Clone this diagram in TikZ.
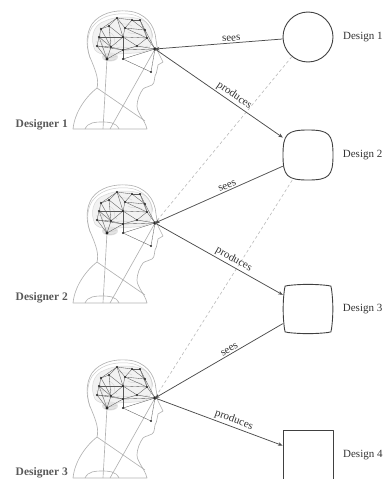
\documentclass[tikz,border=0pt]{standalone}
\usepackage{fontspec}
\setmainfont{Liberation Serif}
\usetikzlibrary{arrows.meta}

\tikzset{
  headline/.style={draw=gray!60, line width=0.65pt, line join=round},
  skullline/.style={draw=gray!40, line width=0.5pt},
  brainfold/.style={draw=gray!30, line width=0.5pt},
  netline/.style={draw=black!65, line width=0.35pt},
  linkarrow/.style={draw=black!70, line width=0.75pt, -{Stealth[length=4.5pt,width=3.6pt]}},
  seesarrow/.style={draw=black!70, line width=0.75pt, {Stealth[length=4.5pt,width=3.6pt]}-},
  trail/.style={draw=gray!55, line width=0.6pt, dash pattern=on 3pt off 2.5pt},
  designline/.style={draw=black!75, line width=0.9pt, line join=round},
  designbox/.style={rectangle, minimum size=50pt, inner sep=0pt, draw=none},
  lbl/.style={font=\fontsize{11}{13}\selectfont, text=black!80, inner sep=1.5pt},
  whois/.style={font=\bfseries\fontsize{11.5}{13}\selectfont, text=black!65, anchor=east, inner sep=0pt},
  designer/.pic={
    \begin{scope}[shift={(-155,-49)}]
      % brain texture
      \fill[gray!10] (95,50) .. controls (90,40) and (92,25) .. (105,21)
        .. controls (115,16) and (135,15) .. (146,22)
        .. controls (153,28) and (154,42) .. (148,50)
        .. controls (140,54) and (128,53) .. (118,54)
        .. controls (112,55) and (100,56) .. (95,50) -- cycle;
      \draw[brainfold] (95,50) .. controls (90,40) and (92,25) .. (105,21)
        .. controls (115,16) and (135,15) .. (146,22)
        .. controls (153,28) and (154,42) .. (148,50)
        .. controls (140,54) and (128,53) .. (118,54)
        .. controls (112,55) and (100,56) .. (95,50);
      \draw[brainfold] (100,27) .. controls (104,31) and (97,35) .. (102,39) .. controls (106,43) and (99,46) .. (104,50);
      \draw[brainfold] (108,24) .. controls (112,28) and (106,31) .. (112,34) .. controls (117,37) and (112,42) .. (117,45);
      \draw[brainfold] (96,42) .. controls (102,40) and (106,44) .. (112,41);
      \draw[brainfold] (118,22) .. controls (122,26) and (128,22) .. (132,26);
      \draw[brainfold] (128,32) .. controls (132,36) and (138,31) .. (142,35);
      \draw[brainfold] (116,48) .. controls (122,45) and (128,50) .. (134,47) .. controls (139,45) and (144,49) .. (148,46);
      \fill[gray!22] (110,57) ellipse [x radius=8pt, y radius=4.5pt];
      \draw[brainfold, gray!38] (103,56) .. controls (108,58) and (113,58) .. (117,56);
      \draw[brainfold, gray!38] (104,59) .. controls (108,61) and (113,61) .. (116,59);
      % skull and profile
      \draw[skullline] (90,58) .. controls (86,46) and (87,31) .. (95,24)
        .. controls (103,15) and (117,13) .. (128,14)
        .. controls (143,15) and (152,26) .. (153,38);
      \draw[headline] (73,129) .. controls (75,110) and (88,95) .. (97,88)
        .. controls (99,80) and (96,72) .. (92,62)
        .. controls (86,50) and (85,35) .. (92,24)
        .. controls (100,13) and (115,10) .. (127,11)
        .. controls (145,12) and (155,25) .. (156,40)
        .. controls (157,45) and (157,49) .. (158,52)
        -- (163,62) -- (158,65)
        .. controls (157,67) and (158,69) .. (157,70)
        .. controls (156,72) and (157,74) .. (155,76)
        .. controls (154,79) and (155,83) .. (152,85)
        .. controls (149,87) and (145,87) .. (143,89)
        .. controls (140,93) and (137,100) .. (137,106)
        .. controls (137,113) and (145,120) .. (147,129) -- cycle;
      \draw[headline] (85,129) .. controls (88,122) and (96,122) .. (102,122)
        .. controls (108,122) and (116,122) .. (119,129);
      \draw[headline] (107,59) -- (103,129);
      \draw[headline] (155,49) -- (110,129);
      \draw[headline] (97,88) -- (145,121);
      % neural network
      \foreach \i/\p in {1/{117,18},2/{132,20},3/{140,20},4/{109,26},5/{101,29},
          6/{125,28},7/{145,30},8/{99,37},9/{123,37},10/{147,38},11/{97,46},
          12/{111,47},13/{137,46},14/{123,50},15/{107,59},16/{123,59},
          17/{151,72},18/{155,49}}
        \coordinate (-n\i) at (\p);
      \foreach \a/\b in {1/2,2/3,1/4,1/5,4/5,1/6,2/6,2/7,3/7,3/10,6/7,5/8,4/9,
          6/9,1/9,8/9,9/10,7/10,6/10,8/11,8/12,11/12,5/12,9/12,9/13,13/10,
          12/14,9/14,13/14,11/15,12/15,14/15,8/15,4/12,14/16,16/17,11/14,
          18/16,18/14,18/13,18/10,18/7,18/17}
        \draw[netline] (-n\a) -- (-n\b);
      \foreach \i in {1,...,14,16,17}
        \fill[black!85] (-n\i) circle (1.2pt);
      \fill[black!85] (-n15) circle (1.7pt);
      \fill[black!85] (-n18) circle (1.8pt);
    \end{scope}
  }
}

\begin{document}
\begin{tikzpicture}[x=1pt, y=-1pt]
  \useasboundingbox (0,0) rectangle (386,479);

  % eyes of the three designers
  \coordinate (eye1) at (155,49);
  \coordinate (eye2) at (155,223);
  \coordinate (eye3) at (155,398);

  % the designs
  \node[circle, minimum size=50pt, inner sep=0pt, designline] (des1) at (308,37) {};
  \node[designbox] (des2) at (308,155) {};
  \node[designbox] (des3) at (308,309) {};
  \node[designbox, designline] (des4) at (308,455) {};

  % a circle pulled towards a square
  \begin{scope}[shift={(des2.center)}]
    \draw[designline] (25,0) .. controls (25,21) and (21,25) .. (0,25)
      .. controls (-21,25) and (-25,21) .. (-25,0)
      .. controls (-25,-21) and (-21,-25) .. (0,-25)
      .. controls (21,-25) and (25,-21) .. cycle;
  \end{scope}
  % almost a square
  \begin{scope}[shift={(des3.center)}]
    \draw[designline] (23.5,-20) .. controls (25.3,-7) and (25.3,7) .. (23.5,20)
      .. controls (23.5,23) and (23,23.5) .. (20,23.5)
      .. controls (7,25) and (-7,25) .. (-20,23.5)
      .. controls (-23,23.5) and (-23.5,23) .. (-23.5,20)
      .. controls (-25.3,7) and (-25.3,-7) .. (-23.5,-20)
      .. controls (-23.5,-23) and (-23,-23.5) .. (-20,-23.5)
      .. controls (-7,-25) and (7,-25) .. (20,-23.5)
      .. controls (23,-23.5) and (23.5,-23) .. cycle;
  \end{scope}

  \node[lbl, anchor=west, xshift=8pt] (t1) at (des1.east) {Design 1};
  \node[lbl, anchor=west, xshift=8pt] (t2) at (des2.east) {Design 2};
  \node[lbl, anchor=west, xshift=8pt] (t3) at (des3.east) {Design 3};
  \node[lbl, anchor=west, xshift=8pt] (t4) at (des4.east) {Design 4};

  % the designers
  \pic (d1) at (eye1) {designer};
  \pic (d2) at (eye2) {designer};
  \pic (d3) at (eye3) {designer};

  \node[whois] (w1) at (68,125) {Designer 1};
  \node[whois] (w2) at (68,298) {Designer 2};
  \node[whois] (w3) at (68,473) {Designer 3};

  % each design is remembered by the next designer
  \draw[trail] (des1) -- (eye2);
  \draw[trail] (des2) -- (eye3);

  % seeing and producing
  \draw[seesarrow] (eye1) -- (des1) node[lbl, pos=0.6, sloped, above] {sees};
  \draw[linkarrow] (eye1) -- (des2) node[lbl, pos=0.59, sloped, above] {produces};
  \draw[seesarrow] (eye2) -- (des2) node[lbl, pos=0.58, sloped, above] {sees};
  \draw[linkarrow] (eye2) -- (des3) node[lbl, pos=0.59, sloped, above] {produces};
  \draw[seesarrow] (eye3) -- (des3) node[lbl, pos=0.6, sloped, above] {sees};
  \draw[linkarrow] (eye3) -- (des4) node[lbl, pos=0.6, sloped, above] {produces};
\end{tikzpicture}
\end{document}
